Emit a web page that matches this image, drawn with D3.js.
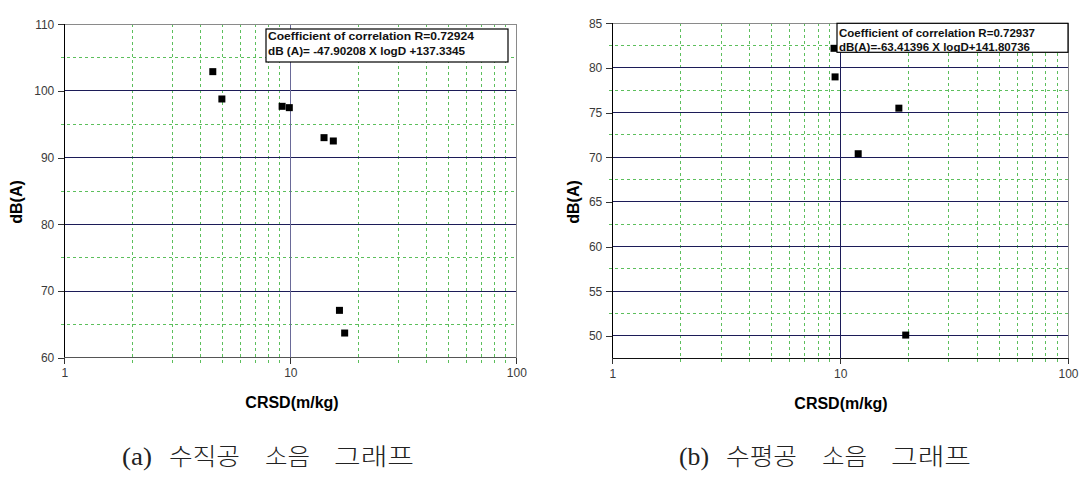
<!DOCTYPE html>
<html>
<head>
<meta charset="utf-8">
<script src="https://cdn.jsdelivr.net/npm/d3@7"></script>
<style>
  body { margin: 0; background: #fff; }
  svg { display: block; }
  line, .domain { shape-rendering: crispEdges; }
</style>
</head>
<body>
<div id="vis"></div>
<script>
// (a) vertical hole
var vertCRSD = [4.54, 4.98, 9.2, 9.9, 14.1, 15.5, 16.5, 17.4];
var vertDB = [102.9, 98.8, 97.7, 97.5, 93.0, 92.5, 67.1, 63.7];
var vertYTicks = [60, 70, 80, 90, 100, 110];
var vertYMinor = [65, 75, 85, 95, 105];
var vertLegend = ["Coefficient of correlation R=0.72924", "dB (A)= -47.90208  X logD +137.3345"];

// (b) horizontal hole
var horzCRSD = [9.4, 9.5, 18.1, 12.0, 19.4];
var horzDB = [82.2, 79.0, 75.5, 70.4, 50.1];
var horzYTicks = [50, 55, 60, 65, 70, 75, 80, 85];
var horzYMinor = [52.5, 57.5, 62.5, 67.5, 72.5, 77.5, 82.5];
var horzLegend = ["Coefficient of correlation R=0.72937", "dB(A)=-63.41396 X logD+141.80736"];

var xTicks = [1, 10, 100];
var xMinor = [2, 3, 4, 5, 6, 7, 8, 9, 20, 30, 40, 50, 60, 70, 80, 90];
var captionsA = ["(a)", "수직공", "소음", "그래프"];
var captionsB = ["(b)", "수평공", "소음", "그래프"];

var svg = d3.select("#vis").append("svg")
    .attr("width", 1086)
    .attr("height", 486);

function panel(o) {
    var g = svg.append("g");
    var x = d3.scaleLog().domain([1, 100]).range([o.left, o.right]);
    var y = d3.scaleLinear().domain(o.yDomain).range([o.bottom, o.top]);

    // minor grid (green dashed)
    g.selectAll(".vminor").data(xMinor).enter().append("line")
        .attr("x1", d => x(d)).attr("x2", d => x(d))
        .attr("y1", o.top).attr("y2", o.bottom + 5)
        .attr("stroke", "#5cbf5c").attr("stroke-dasharray", "3,3");
    g.selectAll(".hminor").data(o.yMinor).enter().append("line")
        .attr("x1", o.left - 3).attr("x2", o.right)
        .attr("y1", d => y(d)).attr("y2", d => y(d))
        .attr("stroke", "#5cbf5c").attr("stroke-dasharray", "3,3");

    // major grid
    g.selectAll(".hmajor").data(o.yTicks.filter(d => d != o.yDomain[1])).enter().append("line")
        .attr("x1", o.left).attr("x2", o.right)
        .attr("y1", d => y(d)).attr("y2", d => y(d))
        .attr("stroke", "#1c1c58");
    g.append("line")
        .attr("x1", x(10)).attr("x2", x(10))
        .attr("y1", o.top).attr("y2", o.bottom)
        .attr("stroke", o.tenColor);

    // frame
    g.append("line").attr("x1", o.left).attr("x2", o.right)
        .attr("y1", o.top).attr("y2", o.top).attr("stroke", "#8a8a8a");
    g.append("line").attr("x1", o.right).attr("x2", o.right)
        .attr("y1", o.top).attr("y2", o.bottom).attr("stroke", "#8a8a8a");

    // axes
    var yAxis = d3.axisLeft(y).tickValues(o.yTicks).tickSize(6).tickPadding(4);
    var xAxis = d3.axisBottom(x).tickValues(xTicks).tickFormat(d3.format("d")).tickSize(6).tickPadding(5);
    var ya = g.append("g").attr("transform", "translate(" + o.left + ",0)").call(yAxis);
    var xa = g.append("g").attr("transform", "translate(0," + o.bottom + ")").call(xAxis);
    ya.select(".domain").attr("stroke", "#000").attr("d", "M0," + o.top + "V" + o.bottom);
    xa.select(".domain").attr("stroke", o.bottomColor).attr("d", "M" + o.left + ",0H" + o.right);
    [ya, xa].forEach(function (a) {
        a.selectAll("text").attr("font-family", "Liberation Sans, Arial, sans-serif")
            .attr("font-size", 12).attr("fill", "#3a3a3a");
        a.selectAll(".tick line").attr("stroke", "#333");
    });

    // points
    g.selectAll(".pt").data(o.xs).enter().append("rect")
        .attr("x", (d, i) => x(d) - 3.5)
        .attr("y", (d, i) => y(o.ys[i]) - 3.5)
        .attr("width", 7).attr("height", 7)
        .attr("fill", "#000");

    // legend box
    g.append("rect")
        .attr("x", o.box[0]).attr("y", o.box[1])
        .attr("width", o.box[2]).attr("height", o.box[3])
        .attr("fill", "#fff").attr("stroke", "#000").attr("stroke-width", 1.2);
    g.selectAll(".leg").data(o.legend).enter().append("text")
        .attr("x", o.box[0] + 2)
        .attr("y", (d, i) => o.legendY[i])
        .attr("font-family", "Liberation Sans, Arial, sans-serif")
        .attr("font-weight", "bold").attr("font-size", 11.5)
        .attr("textLength", (d, i) => o.legendW[i])
        .attr("lengthAdjust", "spacingAndGlyphs")
        .attr("fill", "#111")
        .text(d => d);

    // axis titles
    g.append("text")
        .attr("transform", "translate(" + o.ytitleX + "," + o.ytitleY + ") rotate(-90)")
        .attr("text-anchor", "middle").attr("dy", "0.35em")
        .attr("font-family", "Liberation Sans, Arial, sans-serif")
        .attr("font-weight", "bold").attr("font-size", 16)
        .text("dB(A)");
    g.append("text")
        .attr("x", o.xtitleX).attr("y", o.xtitleY)
        .attr("text-anchor", "middle").attr("dy", "0.35em")
        .attr("font-family", "Liberation Sans, Arial, sans-serif")
        .attr("font-weight", "bold").attr("font-size", 16)
        .text("CRSD(m/kg)");

    // caption, one word at a time
    var capOffsets = [0, 47, 143, 212];
    var capWidths = [30, 71, 45, 80];
    g.selectAll(".cap").data(o.caption).enter().append("text")
        .attr("x", (d, i) => o.capX + capOffsets[i])
        .attr("y", 465)
        .attr("font-family", (d, i) => i == 0 ? "Liberation Serif, serif" : "Noto Sans CJK KR, sans-serif")
        .attr("font-weight", (d, i) => i == 0 ? 400 : 300)
        .attr("font-size", (d, i) => i == 0 ? 25 : 24)
        .attr("textLength", (d, i) => capWidths[i])
        .attr("lengthAdjust", "spacingAndGlyphs")
        .attr("fill", "#222")
        .text(d => d);
}

panel({
    left: 64.3, right: 516.3, top: 24.3, bottom: 357.7,
    yDomain: [60, 110], yTicks: vertYTicks, yMinor: vertYMinor,
    xs: vertCRSD, ys: vertDB, legend: vertLegend,
    box: [266, 29, 242, 33], legendY: [39.5, 55], legendW: [206, 197],
    tenColor: "#6a6a98", bottomColor: "#555",
    ytitleX: 16, ytitleY: 202, xtitleX: 292, xtitleY: 402,
    capX: 122, caption: captionsA
});

panel({
    left: 612.3, right: 1068, top: 23.3, bottom: 358.3,
    yDomain: [47.5, 85], yTicks: horzYTicks, yMinor: horzYMinor,
    xs: horzCRSD, ys: horzDB, legend: horzLegend,
    box: [837, 23.3, 231, 29], legendY: [36.5, 51], legendW: [196, 191],
    tenColor: "#1c1c58", bottomColor: "#111",
    ytitleX: 573, ytitleY: 202, xtitleX: 841, xtitleY: 403,
    capX: 679, caption: captionsB
});
</script>
</body>
</html>
